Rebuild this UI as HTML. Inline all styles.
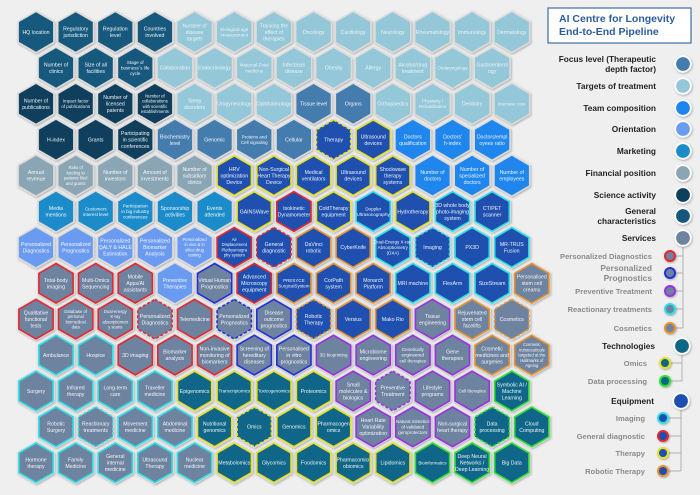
<!DOCTYPE html>
<html><head><meta charset="utf-8">
<style>
html,body{margin:0;padding:0;background:#efefef;}
svg{display:block;font-family:"Liberation Sans",sans-serif;}
</style></head>
<body>
<svg id="s" width="700" height="495" viewBox="0 0 700 495" xmlns="http://www.w3.org/2000/svg">
<defs>
<filter id="sh" x="-30%" y="-30%" width="160%" height="160%"><feDropShadow dx="0.8" dy="1" stdDeviation="1" flood-color="#000" flood-opacity="0.3"/></filter>
</defs>
<rect width="700" height="495" fill="#efefef"/>
<g id="hexes"></g>
<!-- Legend -->
<rect x="548" y="8" width="143" height="35" fill="#fff" stroke="#3d6ba6" stroke-width="1.2"/>
<text x="559" y="22" font-size="10.5" font-weight="bold" fill="#2b5d9e">AI Centre for Longevity</text>
<text x="559" y="35" font-size="10.5" font-weight="bold" fill="#2b5d9e">End-to-End Pipeline</text>
<g font-size="8.3" font-weight="bold" fill="#222" text-anchor="end">
<text x="656" y="62">Focus level (Therapeutic</text><text x="656" y="72">depth factor)</text>
<text x="656" y="89">Targets of treatment</text>
<text x="656" y="111">Team composition</text>
<text x="656" y="132">Orientation</text>
<text x="656" y="154">Marketing</text>
<text x="656" y="176">Financial position</text>
<text x="656" y="198">Science activity</text>
<text x="656" y="214">General</text><text x="656" y="224">characteristics</text>
<text x="656" y="241">Services</text>
<text x="655" y="349">Technologies</text>
<text x="654" y="404">Equipment</text>
</g>
<g font-size="7.6" font-weight="bold" fill="#8a8a8a" text-anchor="end">
<text x="652" y="259">Personalized Diagnostics</text>
<text x="652" y="271" font-size="8.4">Personalized</text><text x="652" y="281" font-size="8.4">Prognostics</text>
<text x="652" y="294">Preventive Treatment</text>
<text x="652" y="312">Reactionary treatments</text>
<text x="652" y="331">Cosmetics</text>
<text x="647" y="366">Omics</text>
<text x="647" y="384">Data processing</text>
<text x="645" y="421">Imaging</text>
<text x="645" y="439">General diagnostic</text>
<text x="645" y="456">Therapy</text>
<text x="645" y="474">Robotic Therapy</text>
</g>
<g stroke="#b0b0b0" stroke-width="1" fill="none">
<path d="M683 245 V328 M670 256 H683 M670 273 H683 M670 291 H683 M670 309 H683 M670 328 H683"/>
<path d="M682 352 V381 M665 363 H682 M665 381 H682"/>
<path d="M681 408 V471 M663 418 H681 M663 436 H681 M663 453 H681 M663 471 H681"/>
</g>
<g id="leg"></g>
</svg>
<script>
var C={G:"#17597d",S:"#0f3f5c",T:"#94c7d8",F:"#457cae",M:"#1f86ee",O:"#6b9bf0",K:"#1b8cc9",N:"#8aa5b4",V:"#6e839f",E:"#1f50b0",H:"#0f6688"};
var B={r:"#e8262e",b:"#2330d8",p:"#9a30e0",c:"#2ce0e8",o:"#e8922e",y:"#e6e020",g:"#2fe02f"};
var rows=[
["HQ location:G","Regulatory|jurisdiction:G","Regulation|level:G","Countries|involved:G","Number of|disease|targets:T","Biological age|measurement:T","Tracking the|effect of|therapies:T","Oncology:T","Cardiology:T","Neurology:T","Rheumatology:T","Immunology:T","Dermatology:T"],
["Number of|clinics:G","Size of all|facilities:G","Stage of|business`s life|cycle:G","Collaboration:T","Endocrinology:T","Maternal-Fetal|medicine:T","Infectious|disease:T","Obesity:T","Allergy:T","Alcohol/drug|treatment:T","Otolaryngology:T","Gastroenterol|ogy:T"],
["Number of|publications:S","Impact factor|of publications:S","Number of|licensed|patents:S","Number of|collaborations|with scientific|establishments:S","Sleep|disorders:T","Urogynecology:T","Ophthalmology:T","Tissue level:F","Organs:F","Orthopaedics:T","Physiatry /|Rehabilitation:T","Dentistry:T","Intensive care:T"],
["H-index:S","Grants:S","Participating|in scientific|conferences:S","Biochemistry|level:F","Genomic:F","Proteins and|Cell signaling:F","Cellular:F","Therapy:E:y-","Ultrasound|devices:E:y","Doctors|qualification:M","Doctors'|h-index:M","Doctors/empl|oyees ratio:M"],
["Annual|revenue:N","Ratio of|funding to|patients filed|and grants:N","Number of|investors:N","Amount of|investments:N","Number of|subsidiary|clinics:N","HRV|optimization|Device:E:y","Non-Surgical|Heart Therapy|Device:E:y","Medical|ventilators:E:y","Ultrasound|devices:E:y","Shockwave|therapy|systems:E:y","Number of|doctors:M","Number of|specialized|doctors:M","Number of|employees:M"],
["Media|mentions:K","Customers|interest level:K","Participation|in big industry|conferences:K","Sponsorship|activities:K","Events|attended:K","GAINSWave:E:y","Isokinetic|Dynamometer:E:r","ColdTherapy|equipment:E:y","Doppler|Ultrasonography:E:c","Hydrotherapy:E:y","3D whole body|photo-imaging|system:E:c","CT/PET|scanner:E:c"],
["Personalized|Diagnostics:O","Personalized|Prognostics:O","Personalized|QALY & HALE|Estimation:O","Personalized|Biomarker|Analysis:O","Personalized|in vivo & in|silico drug|testing:O","Air|Displacement|Plethysmogra|phy system:E:r","General|diagnostic:E:r-","DaVinci|robotic:E:o","CyberKnife:E:o","Dual-Energy X-ray|Absorptiometry|(DXA):E:c","Imaging:E:c-","PX3D:E:c","MR-TRUS|Fusion:E:c"],
["Total-body|imaging:V:r","Multi-Omics|Sequencing:V:r","Mobile|Apps/AI|assistants:V:r","Preventive|Therapies:O","Virtual Human|Prognostics:V:b","Advanced|Microscopy|equipment:E:r","PRESYCE|SurgicalSystem:E:o","CorPath|system:E:o","Monarch|Platform:E:o","MRI machine:E:c","FlexArm:E:c","SizeStream:E:c","Personalised|stem cell|creams:V:o"],
["Qualitative|functional|tests:V:r","Database of|personal|biomedical|data:V:r","Dual-energy|X-ray|absorptiometr|y scans:V:r","Personalized|Diagnostics:V:r-","Telemedicine:V:r","Personalized|Prognostics:V:b-","Disease|outcome|prognostics:V:b","Robotic|Therapy:E:o-","Versius:E:o","Mako Rio:E:o","Tissue|engineering:V:p","Rejuvenated|stem cell|facelifts:V:o","Cosmetics:V:o-"],
["Ambulance:V:c","Hospice:V:c","3D imaging:V:r","Biomarker|analysis:V:r","Non-invasive|monitoring of|biomarkers:V:r","Screening of|hereditary|diseases:V:b","Personalised|in vitro|prognostics:V:b","3D bioprinting:V:p","Microbiome|engineering:V:p","Genetically|engineered|cell therapies:V:p","Gene|therapies:V:p","Cosmetic|medicines and|surgeries:V:o","Cosmetic|nutraceuticals|targeted at the|Hallmarks of|Ageing:V:o"],
["Surgery:V:c","Infrared|therapy:V:c","Long-term|care:V:c","Traveller|medicine:V:c","Epigenomics:H:y","Transcriptomics:H:y","Toxicogenomics:H:y","Proteomics:H:y","Small|molecules &|biologics:V:p","Preventive|Treatment:V:p-","Lifestyle|programs:V:p","Cell therapies:V:p","Symbolic AI /|Machine|Learning:H:g"],
["Robotic|Surgery:V:c","Reactionary|treatments:V:c-","Movement|medicine:V:c","Abdominal|medicine:V:c","Nutritional|genomics:H:y","Omics:H:y-","Genomics:H:y","Pharmacogen|omics:H:y","Heart Rate|Variability|optimization:V:p","Natural mimetics|of validated|geroprotectors:V:p","Non-surgical|heart therapy:V:p","Data|processing:H:g-","Cloud|Computing:H:g"],
["Hormone|therapy:V:c","Family|Medicine:V:c","General|internal|medicine:V:c","Ultrasound|Therapy:V:c","Nuclear|medicine:V:c","Metabolomics:H:y","Glycomics:H:y","Foodomics:H:y","Pharmacomicr|obiomics:H:y","Lipidomics:H:y","Bioinformatics:H:g","Deep Neural|Networks /|Deep Learning:H:g","Big Data:H:g"]
];
var NS="http://www.w3.org/2000/svg";
function hp(cx,cy,r){var p=[];for(var i=0;i<6;i++){var a=(-90+60*i)*Math.PI/180;p.push((cx+r*Math.cos(a)).toFixed(1)+","+(cy+r*Math.sin(a)).toFixed(1));}return p.join(" ");}
function el(t,a,par){var e=document.createElementNS(NS,t);for(var k in a)e.setAttribute(k,a[k]);par.appendChild(e);return e;}
var g=document.getElementById("hexes");
rows.forEach(function(row,r){
  var y=32+35.9*r, x0=(r%2)?56:36;
  row.forEach(function(it,k){
    var x=x0+39.65*k, parts=it.split(":"), lines=parts[0].split("|"), col=C[parts[1]], bd=parts[2];
    el("polygon",{points:hp(x,y,21.5),fill:"#dcdcdc",filter:"url(#sh)"},g);
    var a={points:hp(x,y,19.8),fill:col};
    if(bd){a.stroke=B[bd[0]];a["stroke-width"]=1.6;if(bd.length>1)a["stroke-dasharray"]="3,2";}
    el("polygon",a,g);
    var ml=Math.max.apply(null,lines.map(function(s){return s.length}));
    var fs=lines.length>=4?4.2:(ml>13?4.5:5.2);
    var lh=fs*1.25, y0=y-(lines.length-1)*lh/2+fs*0.35;
    lines.forEach(function(s,i){var t=el("text",{x:x.toFixed(1),y:(y0+i*lh).toFixed(1),"font-size":fs,fill:"#ffffff","text-anchor":"middle","fill-opacity":parts[1]=="T"?0.8:0.92},g);t.textContent=s;});
  });
});
var L=document.getElementById("leg");
function dot(x,y,r,fill,stroke,sw){el("circle",{cx:x,cy:y,r:r,fill:fill,stroke:stroke,"stroke-width":sw,filter:"url(#sh)"},L);}
[[64,"F"],[86,"T"],[108,"M"],[129,"O"],[151,"K"],[173,"N"],[195,"S"],[216,"G"],[238,"V"]].forEach(function(d){dot(683,d[0],7.8,C[d[1]],"#fff",1.8);});
[[256,"r"],[273,"b"],[291,"p"],[309,"c"],[328,"o"]].forEach(function(d){dot(670,d[0],5,C.V,B[d[1]],2);});
dot(682,346,7.8,C.H,"#fff",1.8);
[[363,"y"],[381,"g"]].forEach(function(d){dot(665,d[0],5,C.H,B[d[1]],2);});
dot(681,401,7.8,C.E,"#fff",1.8);
[[418,"c"],[436,"r"],[453,"y"],[471,"o"]].forEach(function(d){dot(663,d[0],5,C.E,B[d[1]],2);});
</script>
</body></html>
